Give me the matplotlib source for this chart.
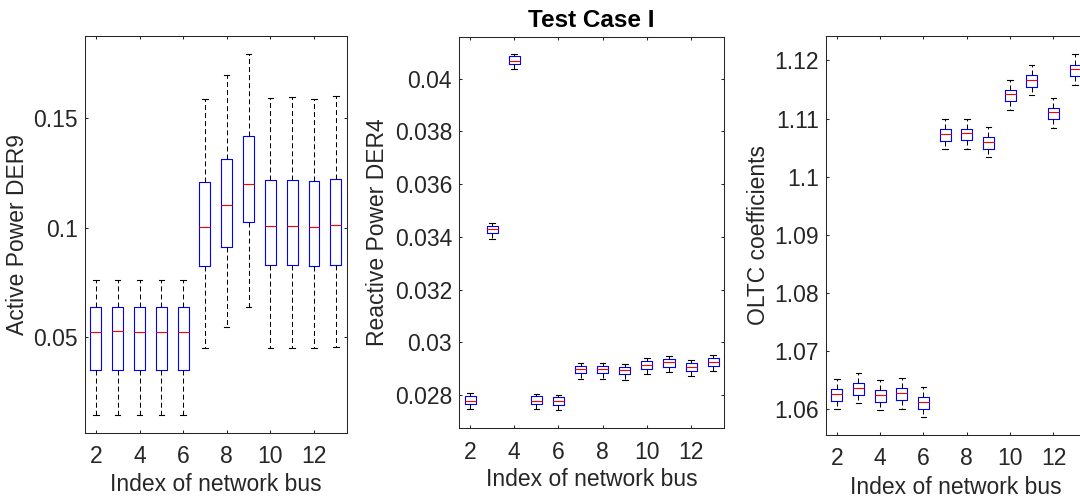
import matplotlib.pyplot as plt
from matplotlib.ticker import FormatStrFormatter

plt.rcParams['font.family'] = ['Liberation Sans', 'DejaVu Sans']
plt.rcParams['lines.scale_dashes'] = False

buses = [2, 3, 4, 5, 6, 7, 8, 9, 10, 11, 12, 13]

# Active Power DER9
p_lo = [0.0145, 0.0145, 0.0145, 0.0145, 0.0145, 0.0453, 0.0546, 0.0637, 0.0453, 0.0453, 0.0453, 0.0457]
p_q1 = [0.0351, 0.0351, 0.0351, 0.0351, 0.0351, 0.0826, 0.0914, 0.1025, 0.0829, 0.0829, 0.0826, 0.0830]
p_med = [0.0526, 0.0527, 0.0526, 0.0526, 0.0525, 0.1002, 0.1106, 0.1201, 0.1007, 0.1010, 0.1005, 0.1011]
p_q3 = [0.0640, 0.0640, 0.0640, 0.0640, 0.0640, 0.1209, 0.1316, 0.1418, 0.1217, 0.1220, 0.1214, 0.1221]
p_hi = [0.0762, 0.0762, 0.0762, 0.0762, 0.0762, 0.1587, 0.1696, 0.1794, 0.1594, 0.1599, 0.1590, 0.1603]

# Reactive Power DER4
q_lo = [0.02746, 0.03392, 0.04037, 0.02746, 0.02742, 0.02862, 0.02862, 0.02857, 0.02879, 0.02886, 0.02872, 0.02890]
q_q1 = [0.02765, 0.03414, 0.04056, 0.02765, 0.02761, 0.02882, 0.02882, 0.02879, 0.02900, 0.02906, 0.02892, 0.02910]
q_med = [0.02778, 0.03428, 0.04068, 0.02778, 0.02776, 0.02899, 0.02899, 0.02895, 0.02915, 0.02923, 0.02907, 0.02925]
q_q3 = [0.02796, 0.03442, 0.04085, 0.02794, 0.02790, 0.02911, 0.02911, 0.02907, 0.02928, 0.02936, 0.02920, 0.02939]
q_hi = [0.02806, 0.03453, 0.04096, 0.02804, 0.02800, 0.02922, 0.02922, 0.02918, 0.02939, 0.02946, 0.02932, 0.02951]

# OLTC coefficients
t_lo = [1.06000, 1.06108, 1.05989, 1.06010, 1.05873, 1.10478, 1.10484, 1.10340, 1.11155, 1.11400, 1.10845, 1.11584]
t_q1 = [1.06143, 1.06251, 1.06131, 1.06155, 1.06010, 1.10622, 1.10628, 1.10484, 1.11297, 1.11550, 1.10994, 1.11727]
t_med = [1.06263, 1.06371, 1.06251, 1.06275, 1.06125, 1.10742, 1.10748, 1.10598, 1.11418, 1.11670, 1.11108, 1.11847]
t_q3 = [1.06344, 1.06457, 1.06337, 1.06361, 1.06216, 1.10828, 1.10828, 1.10690, 1.11498, 1.11749, 1.11189, 1.11928]
t_hi = [1.06526, 1.06629, 1.06509, 1.06533, 1.06388, 1.10994, 1.10994, 1.10850, 1.11663, 1.11916, 1.11354, 1.12105]

dark = '#262626'
fs = 16.5

fig = plt.figure(figsize=(10.8, 4.99), dpi=100)

# [left, bottom, width, height], third one runs past the right edge like the original
specs = [
    ([0.0787, 0.1329, 0.2423, 0.7950], (p_lo, p_q1, p_med, p_q3, p_hi),
     'Active Power DER9', (0.0064, 0.1876), [0.05, 0.1, 0.15], -0.258),
    ([0.4250, 0.1417, 0.2456, 0.7848], (q_lo, q_q1, q_med, q_q3, q_hi),
     'Reactive Power DER4', (0.02673, 0.0416),
     [0.028, 0.030, 0.032, 0.034, 0.036, 0.038, 0.040], -0.307),
    ([0.7648, 0.1283, 0.2407, 0.7996], (t_lo, t_q1, t_med, t_q3, t_hi),
     'OLTC coefficients', (1.0556, 1.1242),
     [1.06, 1.07, 1.08, 1.09, 1.10, 1.11, 1.12], -0.260),
]

axes = []
for rect, (lo, q1, med, q3, hi), ylab, ylim, yt, lx in specs:
    ax = fig.add_axes(rect)
    stats = []
    for i in range(len(buses)):
        stats.append(dict(whislo=lo[i], q1=q1[i], med=med[i], q3=q3[i], whishi=hi[i], fliers=[]))
    ax.bxp(stats, positions=buses, widths=0.5, showfliers=False,
           boxprops=dict(color='#0000ff', lw=0.8),
           medianprops=dict(color='#ff0000', lw=0.8),
           whiskerprops=dict(color='black', lw=0.75, linestyle=(0, (3.6, 2.2))),
           capprops=dict(color='black', lw=0.8))
    ax.set_xlim(1.5, 13.5)
    ax.set_ylim(*ylim)
    ax.set_xticks([2, 4, 6, 8, 10, 12])
    ax.set_xticklabels(['2', '4', '6', '8', '10', '12'])
    ax.set_yticks(yt)
    ax.yaxis.set_major_formatter(FormatStrFormatter('%g'))
    ax.tick_params(direction='in', top=True, right=True, length=2.5, width=0.75,
                   color=dark, labelcolor=dark, labelsize=fs)
    ax.tick_params(axis='x', pad=9)
    ax.tick_params(axis='y', pad=5)
    for s in ax.spines.values():
        s.set_color(dark)
        s.set_linewidth(0.75)
    ax.set_xlabel('Index of network bus', fontsize=fs, color=dark)
    ax.xaxis.set_label_coords(0.5, -0.102)
    ax.set_ylabel(ylab, fontsize=fs, color=dark, va='center')
    ax.yaxis.set_label_coords(lx, 0.5)
    axes.append(ax)

axes[1].set_title('Test Case I', fontsize=17.5, fontweight='bold', pad=7)

fig.savefig('out.png', dpi=100)
